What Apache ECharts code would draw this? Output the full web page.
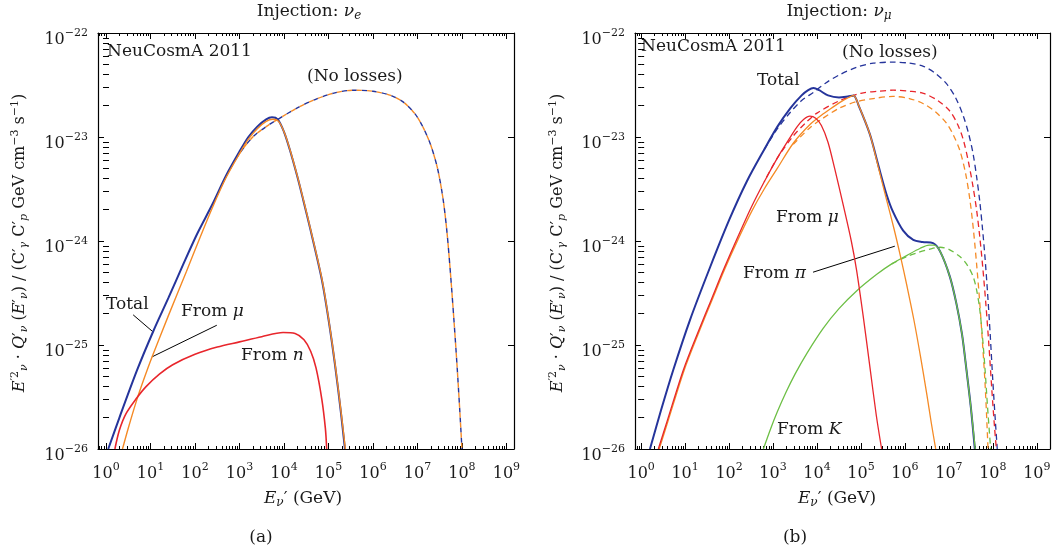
<!DOCTYPE html>
<html><head><meta charset="utf-8">
<script src="https://cdn.jsdelivr.net/npm/echarts@6/dist/echarts.min.js"></script>
<style>html,body{margin:0;padding:0;background:#fff}#c{width:1056px;height:558px}</style>
</head><body><div id="c"></div>
<script>
// ---- values: [log10(E'/GeV), log10(E'^2 Q')] ----
const majorX = [0,1,2,3,4,5,6,7,8,9];
const majorY = [-26,-25,-24,-23,-22];

// Panel (a): injection nu_e
const totalE = [[0.05,-26],[0.3,-25.7],[0.7,-25.24],[1.06,-24.87],[1.4,-24.55],[1.73,-24.23],[2.05,-23.93],[2.4,-23.64],[2.7,-23.37],[3.0,-23.14],[3.2,-23.0],[3.4,-22.9],[3.6,-22.83],[3.73,-22.81],[3.86,-22.83],[4.0,-22.95],[4.13,-23.12],[4.3,-23.38],[4.43,-23.6],[4.6,-23.9],[4.85,-24.37],[5.0,-24.75],[5.15,-25.2],[5.28,-25.65],[5.37,-26]];
const fromMuE = [[0.37,-26],[0.5,-25.8],[0.69,-25.53],[0.85,-25.33],[1.03,-25.12],[1.4,-24.72],[1.81,-24.29],[2.1,-23.98],[2.4,-23.67],[2.7,-23.39],[3.0,-23.16],[3.2,-23.02],[3.4,-22.92],[3.6,-22.85],[3.75,-22.83],[3.88,-22.85],[4.01,-22.96],[4.14,-23.13],[4.31,-23.39],[4.44,-23.61],[4.61,-23.91],[4.86,-24.38],[5.01,-24.77],[5.16,-25.22],[5.29,-25.67],[5.38,-26]];
const fromNE = [[0.2,-26],[0.3,-25.82],[0.45,-25.66],[0.69,-25.51],[0.9,-25.4],[1.2,-25.28],[1.5,-25.19],[2.0,-25.09],[2.5,-25.02],[3.0,-24.97],[3.5,-24.92],[3.98,-24.88],[4.25,-24.89],[4.45,-24.95],[4.6,-25.06],[4.72,-25.22],[4.85,-25.52],[4.93,-25.8],[4.96,-26]];
const noLossE = [[2.4,-23.65],[2.7,-23.38],[3.0,-23.16],[3.3,-23.0],[3.6,-22.9],[3.9,-22.82],[4.3,-22.72],[4.7,-22.64],[5.1,-22.58],[5.56,-22.55],[6.0,-22.56],[6.4,-22.6],[6.7,-22.67],[6.95,-22.78],[7.13,-22.91],[7.3,-23.08],[7.45,-23.3],[7.57,-23.58],[7.66,-23.9],[7.74,-24.3],[7.82,-24.76],[7.89,-25.2],[7.95,-25.62],[8.0,-26]];

// Panel (b): injection nu_mu
const totalM = [[0.2,-26],[0.45,-25.63],[0.73,-25.24],[1.11,-24.76],[1.57,-24.25],[2.0,-23.8],[2.4,-23.43],[2.8,-23.12],[3.1,-22.9],[3.4,-22.72],[3.65,-22.6],[3.8,-22.55],[3.92,-22.53],[4.05,-22.55],[4.25,-22.6],[4.5,-22.62],[4.7,-22.61],[4.83,-22.6],[4.95,-22.7],[5.2,-22.97],[5.4,-23.28],[5.58,-23.55],[5.73,-23.72],[5.96,-23.9],[6.19,-23.99],[6.4,-24.01],[6.64,-24.02],[6.8,-24.1],[7.02,-24.34],[7.17,-24.6],[7.3,-24.9],[7.4,-25.24],[7.5,-25.6],[7.59,-26]];
const fromMuM = [[0.39,-26],[0.6,-25.72],[0.96,-25.24],[1.3,-24.87],[1.6,-24.56],[1.87,-24.28],[2.2,-23.96],[2.5,-23.68],[2.8,-23.43],[3.1,-23.2],[3.35,-23.03],[3.55,-22.9],[3.7,-22.83],[3.84,-22.8],[3.97,-22.82],[4.1,-22.89],[4.25,-23.05],[4.4,-23.3],[4.6,-23.66],[4.78,-24.0],[4.9,-24.28],[5.05,-24.72],[5.2,-25.2],[5.35,-25.68],[5.47,-26]];
const fromPiM = [[0.41,-26],[0.62,-25.72],[0.98,-25.24],[1.32,-24.87],[1.62,-24.56],[1.89,-24.28],[2.22,-23.97],[2.52,-23.71],[2.8,-23.5],[3.1,-23.3],[3.46,-23.06],[3.84,-22.88],[4.1,-22.79],[4.3,-22.73],[4.55,-22.66],[4.72,-22.62],[4.83,-22.6],[4.95,-22.7],[5.2,-22.97],[5.4,-23.3],[5.58,-23.6],[5.75,-23.88],[5.9,-24.15],[6.05,-24.44],[6.2,-24.75],[6.35,-25.1],[6.5,-25.48],[6.6,-25.75],[6.7,-26]];
const fromKM = [[2.78,-26],[2.95,-25.8],[3.1,-25.64],[3.3,-25.45],[3.5,-25.28],[3.77,-25.08],[4.14,-24.84],[4.5,-24.65],[4.9,-24.48],[5.36,-24.32],[5.7,-24.22],[6.04,-24.14],[6.35,-24.07],[6.55,-24.04],[6.66,-24.04],[6.8,-24.1],[7.02,-24.34],[7.17,-24.6],[7.3,-24.9],[7.4,-25.24],[7.5,-25.6],[7.6,-26]];
const noLossTotalM = [[2.8,-23.12],[3.1,-22.92],[3.4,-22.76],[3.65,-22.65],[3.92,-22.57],[4.2,-22.48],[4.52,-22.4],[4.9,-22.33],[5.28,-22.29],[5.73,-22.28],[6.1,-22.29],[6.42,-22.32],[6.7,-22.39],[6.95,-22.49],[7.15,-22.62],[7.33,-22.8],[7.45,-22.97],[7.55,-23.16],[7.63,-23.38],[7.7,-23.61],[7.76,-23.86],[7.82,-24.15],[7.88,-24.5],[7.94,-24.9],[8.0,-25.35],[8.06,-25.75],[8.1,-26]];
const noLossMuM = [[2.8,-23.43],[3.1,-23.2],[3.46,-22.99],[3.75,-22.86],[4.0,-22.77],[4.52,-22.65],[5.0,-22.58],[5.4,-22.56],[5.73,-22.55],[6.1,-22.56],[6.42,-22.58],[6.75,-22.65],[7.02,-22.75],[7.2,-22.88],[7.33,-23.03],[7.45,-23.25],[7.55,-23.48],[7.63,-23.7],[7.7,-23.95],[7.77,-24.25],[7.84,-24.6],[7.91,-25.0],[7.98,-25.45],[8.04,-25.8],[8.08,-26]];
const noLossPiM = [[3.46,-23.07],[3.84,-22.91],[4.1,-22.83],[4.52,-22.72],[4.9,-22.66],[5.28,-22.63],[5.73,-22.61],[6.1,-22.63],[6.42,-22.68],[6.7,-22.76],[6.95,-22.87],[7.1,-22.98],[7.25,-23.13],[7.38,-23.35],[7.48,-23.61],[7.56,-23.9],[7.63,-24.22],[7.7,-24.58],[7.76,-24.95],[7.82,-25.35],[7.86,-25.7],[7.89,-26]];
const noLossKM = [[5.7,-24.22],[6.04,-24.15],[6.3,-24.11],[6.55,-24.08],[6.8,-24.06],[7.0,-24.08],[7.25,-24.15],[7.4,-24.22],[7.55,-24.34],[7.63,-24.47],[7.7,-24.65],[7.76,-24.9],[7.82,-25.22],[7.88,-25.6],[7.95,-26]];

// ---- styling / layout ----
const FONT = 'DejaVu Serif';
const BLUE = '#25349b', RED = '#e8262c', ORANGE = '#f58a25', GREEN = '#6dbf45', INK = '#1a1a1a';
const minorX = [], minorY = [];
for (let n = -1; n <= 9; n++) for (let k = 2; k <= 9; k++) minorX.push(n + Math.log10(k));
for (let n = -27; n <= -22; n++) for (let k = 2; k <= 9; k++) minorY.push(n + Math.log10(k));

const labelRich = {
  b: {fontFamily: FONT, fontSize: 16, lineHeight: 20, verticalAlign: 'bottom', color: INK},
  s: {fontFamily: FONT, fontSize: 11, lineHeight: 8, verticalAlign: 'top', color: INK}
};
function richSet(size) {
  const sub = Math.round(size * 0.68);
  return {
    n: {fontFamily: FONT, fontSize: size, lineHeight: 20, color: INK},
    i: {fontFamily: FONT, fontSize: size, lineHeight: 20, fontStyle: 'italic', color: INK},
    sub: {fontFamily: FONT, fontSize: sub, lineHeight: 8, verticalAlign: 'bottom', color: INK},
    isub: {fontFamily: FONT, fontSize: sub, lineHeight: 8, verticalAlign: 'bottom', fontStyle: 'italic', color: INK},
    sup: {fontFamily: FONT, fontSize: sub, lineHeight: 8, verticalAlign: 'top', color: INK}
  };
}
const textRich = richSet(17), titleRich = richSet(16);

const grids = [
  {left: 98, top: 33, width: 416, height: 416, xr: [-0.18, 9.17]},
  {left: 635, top: 33, width: 415, height: 416, xr: [-0.14, 9.3]}
];

const xAxes = [], yAxes = [];
grids.forEach((g, gi) => {
  const lineOn = {show: true, onZero: false, lineStyle: {color: '#000', width: 1.2}};
  const base = {type: 'value', gridIndex: gi, min: g.xr[0], max: g.xr[1], splitLine: {show: false}};
  xAxes.push(Object.assign({}, base, {position: 'bottom', axisLine: lineOn,
    axisTick: {show: true, inside: true, length: 6, customValues: majorX, lineStyle: {color: '#000', width: 1}},
    axisLabel: {show: true, customValues: majorX, margin: 13, formatter: v => '{b|10}{s|' + Math.round(v) + '}', rich: labelRich}}));
  xAxes.push(Object.assign({}, base, {position: 'top', axisLine: lineOn,
    axisTick: {show: true, inside: true, length: 6, customValues: majorX, lineStyle: {color: '#000', width: 1}},
    axisLabel: {show: false}}));
  ['bottom', 'top'].forEach(p => xAxes.push(Object.assign({}, base, {position: p, axisLine: {show: false},
    axisTick: {show: true, inside: true, length: 3, customValues: minorX, lineStyle: {color: '#000', width: 1}},
    axisLabel: {show: false}})));
  const ybase = {type: 'value', gridIndex: gi, min: -26, max: -22, splitLine: {show: false}};
  yAxes.push(Object.assign({}, ybase, {position: 'left', axisLine: lineOn,
    axisTick: {show: true, inside: true, length: 6, customValues: majorY, lineStyle: {color: '#000', width: 1}},
    axisLabel: {show: true, customValues: majorY, margin: 10, padding: [10, 0, 0, 0],
      formatter: v => '{b|10}{s|\u2212' + Math.abs(Math.round(v)) + '}', rich: labelRich}}));
  yAxes.push(Object.assign({}, ybase, {position: 'right', axisLine: lineOn,
    axisTick: {show: true, inside: true, length: 6, customValues: majorY, lineStyle: {color: '#000', width: 1}},
    axisLabel: {show: false}}));
  ['left', 'right'].forEach(p => yAxes.push(Object.assign({}, ybase, {position: p, axisLine: {show: false},
    axisTick: {show: true, inside: true, length: 3, customValues: minorY, lineStyle: {color: '#000', width: 1}},
    axisLabel: {show: false}})));
});

function line(panel, data, color, width, dash, offset) {
  const ls = {color: color, width: width, type: dash || 'solid'};
  if (offset) ls.dashOffset = offset;
  return {type: 'line', xAxisIndex: panel * 4, yAxisIndex: panel * 4, data: data, showSymbol: false,
    smooth: 0.3, silent: true, lineStyle: ls, clip: true};
}

const series = [
  // (a)
  line(0, noLossE, BLUE, 1.4, [5, 5], 0),
  line(0, noLossE, ORANGE, 1.4, [5, 5], 5),
  line(0, totalE, BLUE, 2),
  line(0, fromMuE, ORANGE, 1.4),
  line(0, fromNE, RED, 1.6),
  // (b)
  line(1, noLossTotalM, BLUE, 1.3, [6, 4], 0),
  line(1, noLossMuM, RED, 1.3, [6, 4], 5),
  line(1, noLossPiM, ORANGE, 1.3, [6, 4], 0),
  line(1, noLossKM, GREEN, 1.3, [6, 4], 0),
  line(1, totalM, BLUE, 2),
  line(1, fromKM, GREEN, 1.3),
  line(1, fromPiM, ORANGE, 1.3),
  line(1, fromMuM, RED, 1.3)
];

function txt(x, y, text, align, rot, rich) {
  return {type: 'text', x: x, y: y, rotation: rot || 0, silent: true,
    style: {text: text, rich: rich || textRich, align: align || 'left', verticalAlign: 'middle', fill: INK,
      font: '17px "' + FONT + '"'}};
}
const yTitle = '{i|E}{sup|\u20322}{isub|\u03bd}{n| \u00b7 }{i|Q}{n|\u2032}{isub|\u03bd}{n| (}{i|E}{n|\u2032}{isub|\u03bd}{n|) / (C\u2032}{isub|\u03b3}{n| C\u2032}{isub|p}{n| GeV cm}{sup|\u22123}{n| s}{sup|\u22121}{n|)}';
const xTitle = '{i|E}{isub|\u03bd}{n|\u2032 (GeV)}';

const graphics = [
  txt(309, 12, '{n|Injection: }{i|\u03bd}{isub|e}', 'center'),
  txt(839, 12, '{n|Injection: }{i|\u03bd}{isub|\u03bc}', 'center'),
  txt(20, 243, yTitle, 'center', Math.PI / 2, titleRich),
  txt(558, 243, yTitle, 'center', Math.PI / 2, titleRich),
  txt(303, 499, xTitle, 'center'),
  txt(837, 499, xTitle, 'center'),
  txt(261, 538, '{n|(a)}', 'center'),
  txt(795, 538, '{n|(b)}', 'center'),
  txt(107, 52, '{n|NeuCosmA 2011}'),
  txt(307, 77, '{n|(No losses)}'),
  txt(106, 305, '{n|Total}'),
  txt(181, 312, '{n|From }{i|\u03bc}'),
  txt(241, 356, '{n|From }{i|n}'),
  txt(641, 47, '{n|NeuCosmA 2011}'),
  txt(842, 53, '{n|(No losses)}'),
  txt(757, 81, '{n|Total}'),
  txt(776, 218, '{n|From }{i|\u03bc}'),
  txt(743, 274, '{n|From }{i|\u03c0}'),
  txt(777, 430, '{n|From }{i|K}')
];

const chart = echarts.init(document.getElementById('c'), null, {renderer: 'canvas'});
chart.setOption({
  animation: false,
  backgroundColor: '#fff',
  grid: grids.map(g => ({left: g.left, top: g.top, width: g.width, height: g.height, containLabel: false})),
  xAxis: xAxes, yAxis: yAxes, series: series, graphic: graphics
});

// leader lines: endpoints given in data coordinates
const leaders = [
  [0, [0.61, -24.71], [1.06, -24.875]],
  [0, [2.49, -24.81], [1.03, -25.115]],
  [1, [3.91, -24.30], [5.77, -24.05]]
];
const leaderEls = leaders.map(([p, a, b]) => {
  const f = {xAxisIndex: p * 4, yAxisIndex: p * 4};
  const pa = chart.convertToPixel(f, a), pb = chart.convertToPixel(f, b);
  return {type: 'line', silent: true, shape: {x1: pa[0], y1: pa[1], x2: pb[0], y2: pb[1]},
    style: {stroke: '#000', lineWidth: 1}};
});
chart.setOption({graphic: graphics.concat(leaderEls)});
</script>
</body></html>
